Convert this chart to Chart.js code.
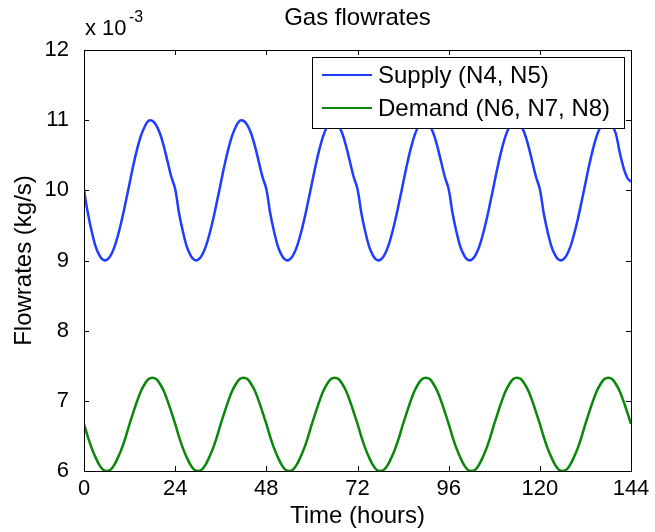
<!DOCTYPE html>
<html>
<head>
<meta charset="utf-8">
<title>Gas flowrates</title>
<script src="https://cdn.jsdelivr.net/npm/chart.js@4.4.1/dist/chart.umd.min.js"></script>
<style>
  body { margin: 0; background: #fff; }
  canvas { display: block; }
</style>
</head>
<body>
<canvas id="chart" width="655" height="532"></canvas>
<script>
// ==== Data: flowrates in 1e-3 kg/s, one sample per hour ====
const supply = [
  10.00, 9.68, 9.42, 9.21, 9.08, 9.01, 9.01, 9.07, 9.19, 9.37, 9.59, 9.84, 10.10, 10.36, 10.59, 10.78, 10.91, 10.99, 10.99, 10.93, 10.81, 10.63, 10.41, 10.19,
  10.02, 9.68, 9.42, 9.21, 9.08, 9.01, 9.01, 9.07, 9.19, 9.37, 9.59, 9.84, 10.10, 10.36, 10.59, 10.78, 10.91, 10.99, 10.99, 10.93, 10.81, 10.63, 10.41, 10.19,
  10.02, 9.68, 9.42, 9.21, 9.08, 9.01, 9.01, 9.07, 9.19, 9.37, 9.59, 9.84, 10.10, 10.36, 10.59, 10.78, 10.91, 10.99, 10.99, 10.93, 10.81, 10.63, 10.41, 10.19,
  10.02, 9.68, 9.42, 9.21, 9.08, 9.01, 9.01, 9.07, 9.19, 9.37, 9.59, 9.84, 10.10, 10.36, 10.59, 10.78, 10.91, 10.99, 10.99, 10.93, 10.81, 10.63, 10.41, 10.19,
  10.02, 9.68, 9.42, 9.21, 9.08, 9.01, 9.01, 9.07, 9.19, 9.37, 9.59, 9.84, 10.10, 10.36, 10.59, 10.78, 10.91, 10.99, 10.99, 10.93, 10.81, 10.63, 10.41, 10.19,
  10.02, 9.68, 9.42, 9.21, 9.08, 9.01, 9.01, 9.07, 9.19, 9.37, 9.59, 9.84, 10.10, 10.36, 10.59, 10.78, 10.91, 10.99, 10.99, 10.93, 10.81, 10.55, 10.33, 10.18,
  10.12
];
const demand = [
  6.67, 6.49, 6.33, 6.20, 6.09, 6.02, 6.00, 6.02, 6.09, 6.20, 6.33, 6.49, 6.67, 6.84, 7.00, 7.14, 7.24, 7.31, 7.33, 7.31, 7.24, 7.14, 7.00, 6.84,
  6.67, 6.49, 6.33, 6.20, 6.09, 6.02, 6.00, 6.02, 6.09, 6.20, 6.33, 6.49, 6.67, 6.84, 7.00, 7.14, 7.24, 7.31, 7.33, 7.31, 7.24, 7.14, 7.00, 6.84,
  6.67, 6.49, 6.33, 6.20, 6.09, 6.02, 6.00, 6.02, 6.09, 6.20, 6.33, 6.49, 6.67, 6.84, 7.00, 7.14, 7.24, 7.31, 7.33, 7.31, 7.24, 7.14, 7.00, 6.84,
  6.67, 6.49, 6.33, 6.20, 6.09, 6.02, 6.00, 6.02, 6.09, 6.20, 6.33, 6.49, 6.67, 6.84, 7.00, 7.14, 7.24, 7.31, 7.33, 7.31, 7.24, 7.14, 7.00, 6.84,
  6.67, 6.49, 6.33, 6.20, 6.09, 6.02, 6.00, 6.02, 6.09, 6.20, 6.33, 6.49, 6.67, 6.84, 7.00, 7.14, 7.24, 7.31, 7.33, 7.31, 7.24, 7.14, 7.00, 6.84,
  6.67, 6.49, 6.33, 6.20, 6.09, 6.02, 6.00, 6.02, 6.09, 6.20, 6.33, 6.49, 6.67, 6.84, 7.00, 7.14, 7.24, 7.31, 7.33, 7.31, 7.24, 7.14, 7.00, 6.84,
  6.67
];
const hours = supply.map((_, i) => i);
const timeTicks = [0, 24, 48, 72, 96, 120, 144];
const rateTicks = [6, 7, 8, 9, 10, 11, 12];

const FONT = "'Liberation Sans', Arial, Helvetica, sans-serif";
Chart.defaults.font.family = FONT;
Chart.defaults.color = "#000";

// ==== Axes box, inward ticks, exponent, title and legend ====
const matlabFrame = {
  id: "matlabFrame",
  afterDraw(chart) {
    const { ctx, chartArea: a, scales } = chart;
    const tl = 5;
    ctx.save();
    ctx.strokeStyle = "#000";
    ctx.lineWidth = 1;
    ctx.beginPath();
    for (const v of timeTicks) {
      const x = Math.round(scales.x.getPixelForValue(v)) + 0.5;
      ctx.moveTo(x, a.bottom); ctx.lineTo(x, a.bottom - tl);
      ctx.moveTo(x, a.top); ctx.lineTo(x, a.top + tl);
    }
    for (const v of rateTicks) {
      const y = Math.round(scales.y.getPixelForValue(v)) + 0.5;
      ctx.moveTo(a.left, y); ctx.lineTo(a.left + tl, y);
      ctx.moveTo(a.right, y); ctx.lineTo(a.right - tl, y);
    }
    ctx.stroke();
    ctx.strokeRect(Math.round(a.left) + 0.5, Math.round(a.top) + 0.5,
      Math.round(a.right - a.left), Math.round(a.bottom - a.top));

    // exponent label
    ctx.fillStyle = "#000";
    ctx.textBaseline = "alphabetic";
    ctx.textAlign = "left";
    ctx.font = "22px " + FONT;
    ctx.fillText("x 10", a.left + 1, 35);
    ctx.font = "16px " + FONT;
    ctx.fillText("-3", a.left + 45, 22);

    // title
    ctx.font = "24px " + FONT;
    ctx.textAlign = "center";
    ctx.textBaseline = "middle";
    ctx.fillText("Gas flowrates", (a.left + a.right) / 2, 18);

    // legend
    const lx = a.right - 319, ly = a.top + 7, lw = 312, lh = 71;
    ctx.fillStyle = "#fff";
    ctx.fillRect(lx, ly, lw, lh);
    ctx.strokeRect(lx + 0.5, ly + 0.5, lw, lh);
    ctx.textAlign = "left";
    chart.data.datasets.forEach((ds, i) => {
      const y = ly + 18 + i * 33;
      ctx.strokeStyle = ds.borderColor;
      ctx.lineWidth = 2;
      ctx.beginPath();
      ctx.moveTo(lx + 10, y); ctx.lineTo(lx + 60, y);
      ctx.stroke();
      ctx.fillStyle = "#000";
      ctx.fillText(ds.label, lx + 66, y + 1);
    });
    ctx.restore();
  }
};

new Chart(document.getElementById("chart"), {
  type: "line",
  data: {
    labels: hours,
    datasets: [
      { label: "Supply (N4, N5)", data: supply, borderColor: "#1f3cff", borderWidth: 2.5 },
      { label: "Demand (N6, N7, N8)", data: demand, borderColor: "#0a870a", borderWidth: 2.5 }
    ]
  },
  options: {
    responsive: false,
    animation: false,
    layout: { padding: { top: 50, right: 24, bottom: 0, left: 0 } },
    elements: { point: { radius: 0 }, line: { tension: 0.4 } },
    plugins: { legend: { display: false }, tooltip: { enabled: false } },
    scales: {
      x: {
        type: "linear",
        min: 0,
        max: 144,
        afterBuildTicks: (s) => { s.ticks = timeTicks.map((v) => ({ value: v })); },
        afterFit: (s) => { s.height = 61; },
        grid: { display: false },
        border: { display: false },
        ticks: { font: { size: 22 }, padding: -3, maxRotation: 0 },
        title: { display: true, text: "Time (hours)", font: { size: 24 }, padding: { top: 0, bottom: 1 } }
      },
      y: {
        min: 6,
        max: 12,
        afterBuildTicks: (s) => { s.ticks = rateTicks.map((v) => ({ value: v })); },
        afterFit: (s) => { s.width = 84; },
        grid: { display: false },
        border: { display: false },
        ticks: { font: { size: 22 }, padding: 7 },
        title: { display: true, text: "Flowrates (kg/s)", font: { size: 24 }, padding: { top: 10, bottom: 0 } }
      }
    }
  },
  plugins: [matlabFrame]
});
</script>
</body>
</html>
